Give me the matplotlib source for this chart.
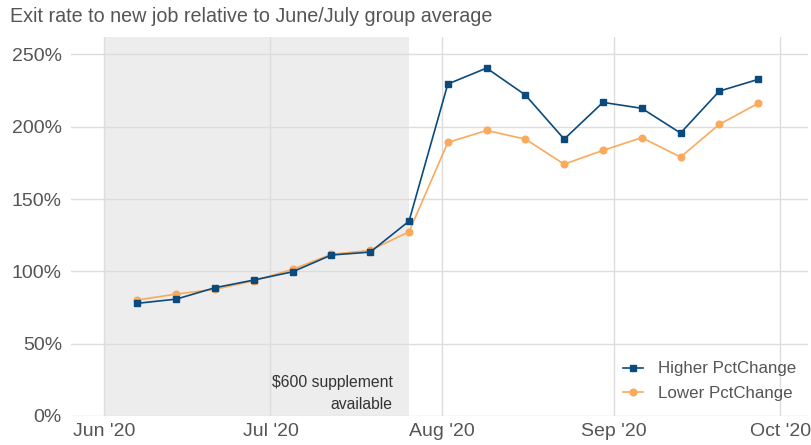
import matplotlib
matplotlib.use("Agg")
import matplotlib.pyplot as plt
import matplotlib.dates as mdates
import pandas as pd

plt.rcParams['font.family'] = ['Liberation Sans', 'DejaVu Sans']

dates = ["2020-06-07", "2020-06-14", "2020-06-21", "2020-06-28", "2020-07-05",
         "2020-07-12", "2020-07-19", "2020-07-26", "2020-08-02", "2020-08-09",
         "2020-08-16", "2020-08-23", "2020-08-30", "2020-09-06", "2020-09-13",
         "2020-09-20", "2020-09-27"]
higher = [77.9, 80.8, 88.7, 94.0, 99.7, 111.3, 113.3, 134.7, 229.5, 240.5,
          221.9, 191.4, 216.8, 212.7, 195.6, 224.6, 232.7]
lower = [80.2, 84.3, 87.6, 93.5, 101.4, 111.8, 114.5, 127.3, 189.1, 197.4,
         191.4, 174.1, 183.6, 192.4, 179.0, 201.6, 216.1]
shade_start, shade_end = "2020-06-01", "2020-07-26"
xticks = ["2020-06-01", "2020-07-01", "2020-08-01", "2020-09-01", "2020-10-01"]
yticks = [0, 50, 100, 150, 200, 250]

x = pd.to_datetime(dates)
blue = "#0b4a7c"
orange = "#fba95b"
grey_text = "#555555"

fig = plt.figure(figsize=(8.11, 4.45), dpi=100)
ax = fig.add_axes([71/811, 1-416/445, (808-71)/811, (416-37)/445])

ax.axvspan(pd.Timestamp(shade_start), pd.Timestamp(shade_end), color="#ededed", zorder=0, lw=0)

ax.plot(x, lower, color=orange, lw=1.2, marker="o", ms=4.8, label="Lower PctChange", zorder=3)
ax.plot(x, higher, color=blue, lw=1.2, marker="s", ms=4.5, label="Higher PctChange", zorder=4)

ax.set_xlim(pd.Timestamp("2020-05-26"), pd.Timestamp("2020-10-06"))
ax.set_ylim(0, 262)
ax.set_yticks(yticks)
ax.set_yticklabels([f"{v}%" for v in yticks])
ax.set_xticks(pd.to_datetime(xticks))
ax.xaxis.set_major_formatter(mdates.DateFormatter("%b '%y"))

ax.grid(True, color="#dddddd", lw=1)
ax.set_axisbelow(True)
for s in ax.spines.values():
    s.set_visible(False)
ax.tick_params(length=0, labelsize=14, labelcolor=grey_text)
ax.tick_params(axis='y', pad=6.5)
ax.tick_params(axis='x', pad=5)

ax.text(pd.Timestamp("2020-07-23"), 3, "$600 supplement\navailable", ha="right", va="bottom",
        fontsize=11.3, color="#333333", linespacing=1.55)

handles, labels = ax.get_legend_handles_labels()
leg = ax.legend(handles[::-1], labels[::-1], loc="lower right", frameon=False, fontsize=12.2,
                handlelength=1.2, labelcolor=grey_text, bbox_to_anchor=(1.005, 0.0),
                handletextpad=0.9, labelspacing=0.55)

fig.text(10/811, 1-17/445, "Exit rate to new job relative to June/July group average",
         fontsize=14.2, color=grey_text, va="center", ha="left")

fig.savefig("out.png", dpi=100)
